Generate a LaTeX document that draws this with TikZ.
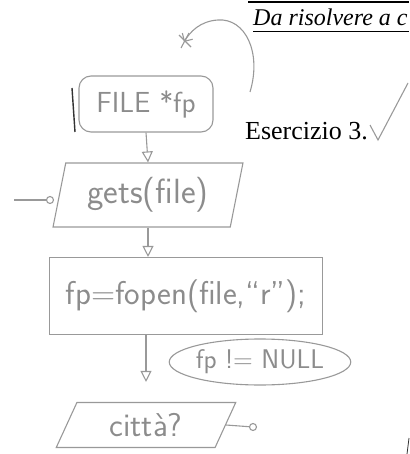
\documentclass[tikz,border=0pt]{standalone}
\usepackage{fontspec}
\setmainfont{Liberation Serif}
\usetikzlibrary{shapes.geometric,arrows.meta}

\begin{document}
\begin{tikzpicture}[x=1pt,y=-1pt,
  pen/.style={gray!80,line width=1.1pt},
  hand/.style={pen,draw,text=gray!90,font=\fontsize{26}{28}\sffamily},
  iobox/.style={hand,trapezium,trapezium stretches=true},
  flow/.style={pen,-{Triangle[open,length=11pt,width=11pt]}}]
\useasboundingbox (0,0) rectangle (409,454);
% printed part of the sheet
\draw[line width=1.5pt] (248,2)--(409,2);
\node[anchor=base west,inner sep=0,font=\fontsize{24}{26}\selectfont\itshape] (title) at (253,26) {Da risolvere a c};
\draw[line width=1pt] (253,32)--(409,32);
\node[anchor=base west,inner sep=0,font=\fontsize{26}{28}\selectfont] (eser) at (245,140) {Esercizio 3.};
\draw[pen] (370,125)--(378,140)--(408,83);
% flow chart
\node[hand,rounded corners=12pt,minimum width=134pt,minimum height=56pt,inner sep=0pt,font=\fontsize{29}{31}\selectfont\sffamily] (filebox) at (146,104) {FILE *fp};
\node[iobox,trapezium left angle=75,trapezium right angle=105,minimum width=190pt,minimum height=64pt,inner sep=0pt,font=\fontsize{35}{37}\selectfont\sffamily] (getsbox) at (148,195) {gets(file)};
\node[hand,minimum width=273pt,minimum height=77pt,inner sep=0pt,font=\fontsize{33}{35}\selectfont\sffamily] (fopenbox) at (186,296) {fp=fopen(file,``r'');};
\node[hand,ellipse,minimum width=150pt,minimum height=46pt,inner sep=0pt,font=\fontsize{27}{29}\selectfont\sffamily] (cond) at (260,362) {fp != NULL};
\node[iobox,trapezium left angle=65,trapezium right angle=115,minimum width=180pt,minimum height=45pt,inner sep=0pt,font=\fontsize{33}{35}\selectfont\sffamily] (cittabox) at (146,425) {città?};
\draw[flow] (filebox.south) -- (getsbox.north);
\draw[flow] (getsbox.south) -- (getsbox.south |- fopenbox.north);
\draw[flow,shorten >=20pt] (cittabox.north |- fopenbox.south) -- (cittabox.north);
% stubs
\coordinate (getsfrom) at (14,200);
\node[pen,draw,circle,inner sep=0,minimum size=7pt] (getsin) at (50,200) {};
\draw[pen] (getsfrom) -- (getsin);
\node[pen,draw,circle,inner sep=0,minimum size=7pt] (cittaout) at (253,427) {};
\draw[pen] (cittabox.east) -- (cittaout);
% loop back
\coordinate (loopstart) at (250,92);
\coordinate (loopend) at (184,42);
\draw[pen,-{Straight Barb[length=6pt]}] (loopstart) .. controls (262,52) and (245,18) .. (218,20) .. controls (200,21) and (190,32) .. (loopend);
\draw[pen] (179,35)--(191,47) (181,48)--(189,33);
% pen strokes
\draw[black!80,line width=1.4pt] (72,88)--(75,132);
\draw[black!80,thick] (407,454)--(409,438);
\end{tikzpicture}
\end{document}
